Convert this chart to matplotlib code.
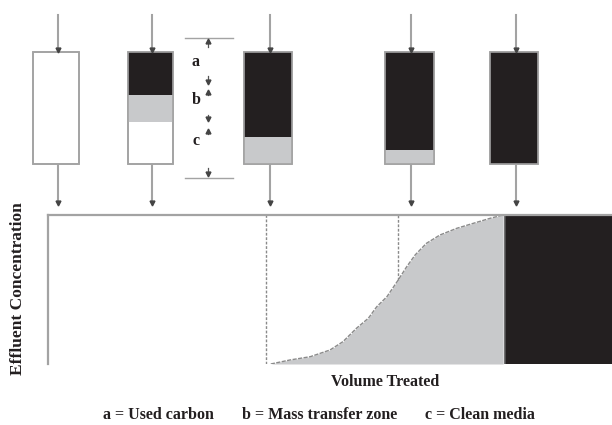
import matplotlib
matplotlib.use('Agg')
import matplotlib.pyplot as plt
from matplotlib.patches import Rectangle

plt.rcParams['font.family'] = ['Liberation Serif', 'DejaVu Serif']
plt.rcParams['font.weight'] = 'bold'

BLACK = '#231f20'
GREY = '#c8c9cb'
LINE = '#a3a3a3'

# carbon columns: fraction used (a) and mass transfer zone (b), top to bottom
usedFrac = [0.0, 0.384, 0.76, 0.875, 1.0]
mtzFrac = [0.0, 0.241, 0.24, 0.125, 0.0]

# breakthrough curve (volume in % of axis, concentration 0..1)
volume = [39.5, 42.9, 46.5, 50.0, 52.3, 54.7, 56.8, 58.3, 60.1, 62.1,
          63.6, 65.1, 67.1, 69.5, 72.5, 75.4, 78.4, 80.7]
conc = [0.0, 0.027, 0.049, 0.094, 0.15, 0.24, 0.307, 0.385, 0.452, 0.564,
        0.653, 0.732, 0.81, 0.866, 0.911, 0.944, 0.978, 1.0]
mtzStart = 38.65
mtzMid = 62.1
exhausted = 81.0

axisLabels = ['Volume Treated', 'Effluent Concentration']
legendText = ['a = Used carbon', 'b = Mass transfer zone', 'c = Clean media']

# layout of columns in pixels
colX = [56, 150, 268, 409, 514]
colW = [46, 45, 48, 49, 48]
boxTop, boxBot = 52, 164

fig = plt.figure(figsize=(6.12, 4.25), dpi=100)
top = fig.add_axes([0, 0, 1, 1])
top.set_xlim(0, 612)
top.set_ylim(425, 0)
top.axis('off')

for cx, w, u, m in zip(colX, colW, usedFrac, mtzFrac):
    h = boxBot - boxTop
    x0 = cx - w / 2
    top.add_patch(Rectangle((x0, boxTop), w, h, facecolor='white', edgecolor=LINE, lw=1.2, zorder=2))
    if u > 0:
        top.add_patch(Rectangle((x0, boxTop), w, h * u, facecolor=BLACK, edgecolor='none', zorder=3))
    if m > 0:
        top.add_patch(Rectangle((x0, boxTop + h * u), w, h * m, facecolor=GREY, edgecolor='none', zorder=3))
    top.add_patch(Rectangle((x0, boxTop), w, h, facecolor='none', edgecolor=LINE, lw=1.2, zorder=4))
    # inflow and outflow arrows
    top.plot([cx + 2, cx + 2], [15, boxTop - 1], color=LINE, lw=1.5, zorder=1)
    top.plot(cx + 2, boxTop - 2, marker='v', ms=3.5, color='#444444', zorder=5)
    top.plot([cx + 2, cx + 2], [boxBot, 203], color=LINE, lw=1.5, zorder=1)
    top.plot(cx + 2, 203, marker='v', ms=3.5, color='#444444', zorder=5)

# bracket with zone labels
bx = 208
top.plot([185, 233], [38, 38], color=LINE, lw=1.0)
top.plot([185, 233], [178, 178], color=LINE, lw=1.0)
for yHead, yTail, mk in [(41, 47, '^'), (82, 76, 'v'), (92, 95, '^'),
                         (119, 115, 'v'), (131, 134, '^'), (174, 168, 'v')]:
    top.plot([bx, bx], [yHead, yTail], color='#555555', lw=0.9)
    top.plot(bx, yHead, marker=mk, ms=3.5, color='#444444')
for lab, y in zip(['a', 'b', 'c'], [62, 100, 141]):
    top.text(196, y, lab, fontsize=11.5, ha='center', va='center', color=BLACK)

# breakthrough chart
ax = fig.add_axes([48 / 612, (425 - 364) / 425, (612 - 48) / 612, (364 - 215) / 425])
ax.set_xlim(0, 100)
ax.set_ylim(0, 1)
ax.set_facecolor('none')
for s in ['bottom', 'right']:
    ax.spines[s].set_visible(False)
for s in ['top', 'left']:
    ax.spines[s].set_color(LINE)
    ax.spines[s].set_linewidth(1.6)
ax.set_xticks([])
ax.set_yticks([])

ax.fill_between(volume, conc, 0, color=GREY, lw=0)
ax.plot(volume, conc, color='#8a8a8a', lw=1.0, ls=(0, (3, 1)))
ax.axvspan(exhausted, 100, color=BLACK, lw=0)
ax.axvline(exhausted, color='#555555', lw=1.2)
ax.plot([mtzStart, mtzStart], [0, 1], color='#8a8a8a', lw=1.0, ls=(0, (2, 1.2)))
ax.plot([mtzMid, mtzMid], [0.564, 1], color='#8a8a8a', lw=1.0, ls=(0, (2, 1.2)))

top.text(385, 382, axisLabels[0], fontsize=11.5, ha='center', va='center', color=BLACK)
top.text(18, 289, axisLabels[1], fontsize=12.5, ha='center', va='center', rotation=90, color=BLACK)
for txt, x in zip(legendText, [158, 320, 480]):
    top.text(x, 415, txt, fontsize=11.5, ha='center', va='center', color=BLACK)

fig.savefig('out.png', dpi=100)
